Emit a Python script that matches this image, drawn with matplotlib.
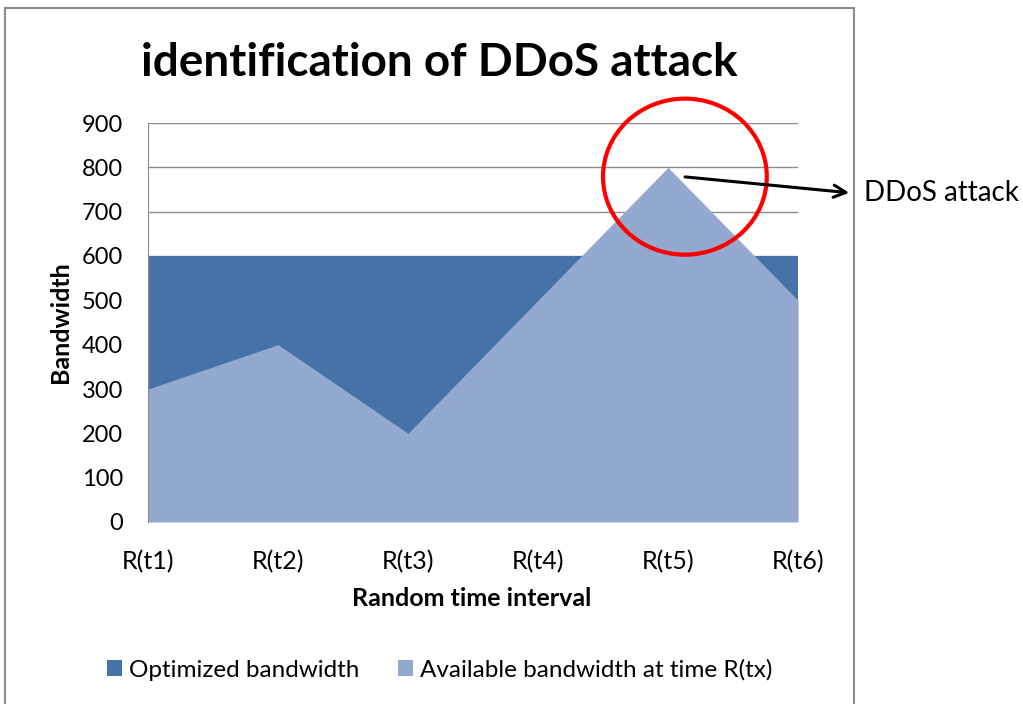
import matplotlib.pyplot as plt
from matplotlib.patches import Rectangle, Ellipse

intervals = ['R(t1)', 'R(t2)', 'R(t3)', 'R(t4)', 'R(t5)', 'R(t6)']
optimized = [600, 600, 600, 600, 600, 600]
available = [300, 400, 200, 500, 800, 500]
yticks = [0, 100, 200, 300, 400, 500, 600, 700, 800, 900]

dark = '#4572A7'
light = '#94A9D0'
font = 'Lato'

W, H = 1023, 704
fig = plt.figure(figsize=(W / 100, H / 100), dpi=100)
fig.patch.set_facecolor('white')

# chart frame
fig.patches.append(Rectangle((5 / W, -0.01), 849 / W, (H - 8) / H + 0.01,
                             transform=fig.transFigure, fill=False,
                             edgecolor='#8C8C8C', lw=1.5))

ax = fig.add_axes([148 / W, (H - 522) / H, 650 / W, 399 / H])
x = range(len(intervals))
ax.fill_between(x, 0, optimized, color=dark, lw=0, label='Optimized bandwidth')
ax.fill_between(x, 0, available, color=light, lw=0,
                label='Available bandwidth at time R(tx)')

ax.set_xlim(0, len(intervals) - 1)
ax.set_ylim(0, 900)
ax.set_yticks(yticks)
ax.set_xticks(list(x))
ax.set_xticklabels(intervals, fontsize=18, family=font)
ax.set_yticklabels([str(v) for v in yticks], fontsize=17, family=font)
ax.tick_params(axis='y', length=0, pad=18)
ax.tick_params(axis='x', length=0, pad=20)
ax.grid(axis='y', color='#8C8C8C', lw=1)
ax.set_axisbelow(True)
for s in ['top', 'right', 'bottom']:
    ax.spines[s].set_visible(False)
ax.spines['left'].set_color('#8C8C8C')

fig.text(472 / W, 1 - 598 / H, 'Random time interval', fontsize=18,
         fontweight='bold', family=font, ha='center', va='center')
fig.text(60 / W, 1 - 322 / H, 'Bandwidth', fontsize=18, fontweight='bold',
         family=font, ha='center', va='center', rotation=90)
fig.text(439 / W, 1 - 63 / H, 'identification of DDoS attack', fontsize=33,
         fontweight='bold', family=font, ha='center', va='center')

# highlight of the attack peak
ax.add_patch(Ellipse((4.13, 779), 1.26, 352, fill=False, edgecolor='#FF0000',
                     lw=3, clip_on=False, zorder=5))
ax.annotate('', xy=(852, H - 193), xycoords='figure pixels',
            xytext=(4.11, 779), textcoords='data',
            arrowprops=dict(arrowstyle='->', color='black', lw=2.2,
                            mutation_scale=22), zorder=6)
fig.text(864 / W, 1 - 193 / H, 'DDoS attack', fontsize=20, family=font,
         ha='left', va='center')

fig.legend(loc='center', bbox_to_anchor=(440 / W, 1 - 670 / H), ncol=2,
           frameon=False, prop={'family': font, 'size': 17.5},
           handlelength=0.6, handleheight=0.6, handletextpad=0.3,
           columnspacing=1.6)

fig.savefig('out.png', dpi=100)
